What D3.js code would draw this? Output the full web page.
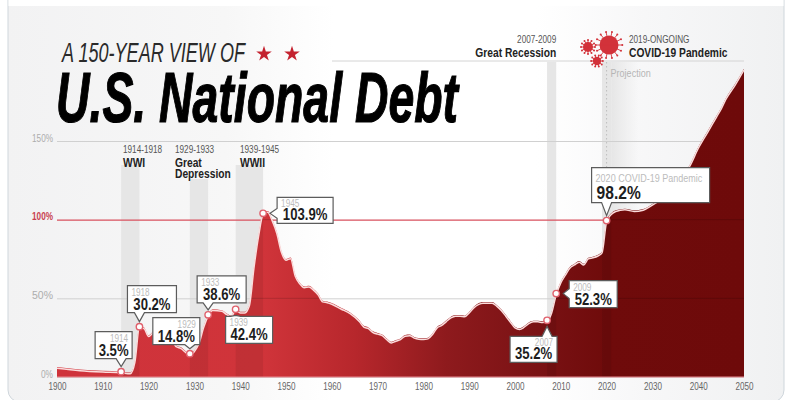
<!DOCTYPE html>
<html>
<head>
<meta charset="utf-8">
<script src="https://cdn.jsdelivr.net/npm/d3@7"></script>
<style>
    html, body { margin: 0; padding: 0; background: #fff; }
    svg { display: block; }
    text { font-family: "Liberation Sans", sans-serif; }
</style>
</head>
<body>
<svg id="chart" width="796" height="400"></svg>
<script>
const years = [1900, 1905, 1910, 1914, 1916, 1917, 1918, 1919, 1920, 1921, 1922, 1925, 1926, 1927, 1929, 1930, 1931, 1932, 1933, 1934, 1936, 1937, 1938, 1939, 1940, 1941, 1942, 1943, 1944, 1945, 1946, 1947, 1948, 1949, 1950, 1951, 1952, 1953, 1954, 1955, 1956, 1957, 1958, 1959, 1960, 1962, 1964, 1966, 1967, 1968, 1969, 1970, 1971, 1972, 1973, 1974, 1975, 1976, 1977, 1978, 1979, 1980, 1981, 1982, 1983, 1984, 1985, 1986, 1987, 1988, 1989, 1990, 1991, 1992, 1993, 1994, 1995, 1996, 1997, 1998, 1999, 2000, 2001, 2002, 2003, 2004, 2005, 2006, 2007, 2008, 2009, 2010, 2011, 2012, 2013, 2014, 2015, 2016, 2017, 2018, 2019, 2020, 2021, 2022, 2024, 2026, 2028, 2030, 2032, 2034, 2036, 2038, 2040, 2042, 2044, 2045, 2046, 2048, 2050];
const debt = [6.3, 4.8, 3.9, 3.4, 2.8, 10, 32, 31.5, 26.5, 29, 32, 26, 20, 19, 14.8, 17, 22, 32, 39.5, 43, 42.5, 40.5, 39, 43, 41.5, 41.5, 46, 70, 90, 104, 105.5, 100, 92, 80, 75, 76, 65, 60, 57.5, 58, 56, 53, 48.5, 48, 47, 44, 41, 36, 32.5, 31.5, 29, 28, 27, 24.5, 22.4, 23.5, 24.5, 26.7, 27, 25.5, 24.8, 24.6, 25, 27.8, 32, 33.5, 36, 38.3, 39.4, 39.4, 39, 41.5, 44.7, 46.8, 47.7, 47.7, 47.7, 45.8, 43, 39.4, 35.6, 32, 31, 32.4, 34.7, 35.8, 35.8, 35.4, 36, 41.5, 53, 60.6, 65.5, 70, 72, 73.7, 72, 75.8, 76.5, 77.5, 79.7, 99.4, 104, 106, 107, 106, 106.8, 110, 114, 121, 128, 134, 146, 156, 166, 171, 177, 186, 196];

const xTicks = [1900, 1910, 1920, 1930, 1940, 1950, 1960, 1970, 1980, 1990, 2000, 2010, 2020, 2030, 2040, 2050];
const yTicks = [0, 50, 100, 150];

const bandStart = [1914, 1929, 1939, 2007, 2019];
const bandEnd = [1918, 1933, 1945, 2009, 2021];

const calloutYears = [1914, 1918, 1929, 1933, 1939, 1945, 2007, 2009, 2020];
const calloutYearText = ["1914", "1918", "1929", "1933", "1939", "1945", "2007", "2009", "2020 COVID-19 Pandemic"];
const calloutValues = ["3.5%", "30.2%", "14.8%", "38.6%", "42.4%", "103.9%", "35.2%", "52.3%", "98.2%"];

const title = "U.S. National Debt";
const kicker = "A 150-YEAR VIEW OF";

// layout of the callouts, relative to the marker
const boxDx = [-26, -12, -37, -11, -10, 14, -37, 13, -15];
const boxDy = [-40, -41, -36, -39, 7, -16, 16, -13, -53];
const boxW = [37, 49, 47, 49, 47, 56, 47, 48, 118];
const boxH = [27, 27, 27, 27, 27, 26, 26, 27, 35];
const tailSide = ["bottom", "bottom", "bottom", "bottom", "top", "left", "top", "left", "bottom"];
const yearAlign = ["end", "start", "end", "start", "start", "start", "end", "start", "start"];

const margin = { top: 141, right: 52, bottom: 23, left: 57 };
const width = 796 - margin.left - margin.right;
const height = 400 - margin.top - margin.bottom;
const narrow = 0.82; // no condensed face installed, so squeeze the regular one

const svg = d3.select("#chart");
const defs = svg.append("defs");

const x = d3.scaleLinear().domain([1900, 2050]).range([margin.left, margin.left + width]);
const y = d3.scaleLinear().domain([0, 150]).range([margin.top + height, margin.top]);

function label(parent, px, py, str, size, fill, anchor, bold) {
    return parent.append("text")
        .attr("transform", `translate(${px}, ${py}) scale(${narrow}, 1)`)
        .attr("text-anchor", anchor || "start")
        .attr("fill", fill)
        .style("font-size", size + "px")
        .style("font-weight", bold ? "bold" : "normal")
        .text(str);
}

const panelGrad = defs.append("linearGradient").attr("id", "panelGrad");
panelGrad.selectAll("stop")
    .data([[0, "#f2f2f3"], [0.28, "#f7f7f7"], [0.42, "#ffffff"], [0.68, "#ffffff"], [0.82, "#f7f7f8"], [1, "#f0f1f2"]])
    .enter().append("stop")
    .attr("offset", d => d[0])
    .attr("stop-color", d => d[1]);

const areaGrad = defs.append("linearGradient")
    .attr("id", "areaGrad")
    .attr("gradientUnits", "userSpaceOnUse")
    .attr("x1", x(1900)).attr("x2", x(2050)).attr("y1", 0).attr("y2", 0);
areaGrad.selectAll("stop")
    .data([[1900, "#cf333b"], [1945, "#d0343a"], [1965, "#b7272c"], [1985, "#8e1a1d"], [2005, "#7a1214"], [2020, "#6f0b0b"], [2050, "#6e0a0a"]])
    .enter().append("stop")
    .attr("offset", d => (d[0] - 1900) / 150)
    .attr("stop-color", d => d[1]);

// panel
svg.append("rect")
    .attr("x", 8).attr("y", -20).attr("width", 776).attr("height", 422).attr("rx", 12)
    .attr("fill", "url(#panelGrad)")
    .attr("stroke", "#cfd6dc");
svg.append("rect").attr("x", 8.5).attr("y", 0).attr("width", 775).attr("height", 6).attr("fill", "#fff");

// period bands
const bandTop = [165, 179, 165, 62, 62];
svg.selectAll("rect.band")
    .data(bandStart)
    .enter().append("rect")
    .attr("class", "band")
    .attr("x", d => x(d))
    .attr("y", (d, i) => bandTop[i])
    .attr("width", (d, i) => x(bandEnd[i]) - x(d))
    .attr("height", (d, i) => y(0) - bandTop[i])
    .attr("fill", "#e6e6e6");
// the covid band fades out to the right of the dotted line
const fadeGrad = defs.append("linearGradient").attr("id", "fadeGrad");
fadeGrad.append("stop").attr("offset", 0).attr("stop-color", "#e6e6e6");
fadeGrad.append("stop").attr("offset", 1).attr("stop-color", "#e6e6e6").attr("stop-opacity", 0);
svg.append("rect")
    .attr("x", x(2021)).attr("y", 62)
    .attr("width", x(2027) - x(2021)).attr("height", y(0) - 62)
    .attr("fill", "url(#fadeGrad)");

// grid
svg.append("line").attr("x1", 332).attr("x2", x(2050)).attr("y1", 61).attr("y2", 61).attr("stroke", "#d4d4d4");

const yAxis = svg.append("g")
    .attr("transform", `translate(${margin.left}, 0)`)
    .call(d3.axisLeft(y).tickValues(yTicks).tickSize(-width).tickPadding(4).tickFormat(d => d + "%"));
yAxis.select(".domain").remove();
yAxis.selectAll(".tick line").attr("stroke", d => d === 100 ? "#d8505e" : "#d0d0d0").attr("stroke-width", d => d === 100 ? 1.4 : 1);
yAxis.selectAll(".tick text")
    .attr("fill", d => d === 100 ? "#c8404e" : "#adadad")
    .attr("textLength", d => d === 0 ? 12 : 21)
    .attr("lengthAdjust", "spacingAndGlyphs")
    .style("font-size", "11px")
    .style("font-weight", d => d === 100 ? "bold" : "normal")
    .attr("dy", "0em");

// area
const area = d3.area().x((d, i) => x(years[i])).y0(y(0)).y1(d => y(d)).curve(d3.curveMonotoneX);
const line = d3.line().x((d, i) => x(years[i])).y(d => y(d)).curve(d3.curveMonotoneX);

svg.append("path").datum(debt).attr("d", area).attr("fill", "url(#areaGrad)");

defs.append("clipPath").attr("id", "areaClip").append("path").datum(debt).attr("d", area);
const inside = svg.append("g").attr("clip-path", "url(#areaClip)");
inside.selectAll("rect")
    .data(bandStart)
    .enter().append("rect")
    .attr("x", d => x(d))
    .attr("y", y(200))
    .attr("width", (d, i) => x(bandEnd[i]) - x(d))
    .attr("height", y(0) - y(200))
    .attr("fill", "#000").attr("opacity", 0.07);
inside.selectAll("line")
    .data([50, 100])
    .enter().append("line")
    .attr("x1", x(1900)).attr("x2", x(2050))
    .attr("y1", d => y(d)).attr("y2", d => y(d))
    .attr("stroke", "#000").attr("opacity", 0.14);

svg.append("path").datum(debt)
    .attr("d", line)
    .attr("transform", "translate(0, 1.2)")
    .attr("fill", "none")
    .attr("stroke", "#fbdcdc")
    .attr("stroke-width", 1.5);
svg.append("line")
    .attr("x1", x(1900)).attr("x2", x(2050)).attr("y1", y(0)).attr("y2", y(0))
    .attr("stroke", "#ea8d94").attr("stroke-width", 1);

// x axis
const xAxis = svg.append("g")
    .attr("transform", `translate(0, ${y(0)})`)
    .call(d3.axisBottom(x).tickValues(xTicks).tickSize(0).tickPadding(5).tickFormat(d3.format("d")));
xAxis.select(".domain").remove();
xAxis.selectAll(".tick text")
    .attr("fill", "#666")
    .attr("textLength", 18)
    .attr("lengthAdjust", "spacingAndGlyphs")
    .style("font-size", "11px");

// projection
svg.append("line")
    .attr("x1", x(2020)).attr("x2", x(2020)).attr("y1", 62).attr("y2", 170)
    .attr("stroke", "#bdbdbd").attr("stroke-dasharray", "1.5 2.5");
label(svg, x(2020) + 4, 77, "Projection", 11, "#b5b5b5");

// period labels
function periodLabel(px, py, range, names, anchor) {
    label(svg, px, py, range, 10, "#555", anchor);
    names.forEach((n, i) => {
        label(svg, px, py + 13.5 + i * 11.5, n, 12.5, "#222", anchor, true);
    });
}
periodLabel(123, 153, "1914-1918", ["WWI"], "start");
periodLabel(175, 153, "1929-1933", ["Great", "Depression"], "start");
periodLabel(240, 153, "1939-1945", ["WWII"], "start");
periodLabel(x(2009), 43, "2007-2009", ["Great Recession"], "end");
periodLabel(629, 43, "2019-ONGOING", ["COVID-19 Pandemic"], "start");

// virus icons
function virus(cx, cy, r, spikes) {
    const g = svg.append("g").attr("transform", `translate(${cx}, ${cy})`).attr("fill", "#d2323a").attr("stroke", "#d2323a");
    g.append("circle").attr("r", r).attr("stroke", "none");
    g.selectAll("line").data(d3.range(spikes)).enter().append("line")
        .attr("x2", d => Math.cos(d / spikes * 2 * Math.PI) * r * 1.4)
        .attr("y2", d => Math.sin(d / spikes * 2 * Math.PI) * r * 1.4)
        .attr("stroke-width", 0.9);
    g.selectAll("circle.tip").data(d3.range(spikes)).enter().append("circle")
        .attr("class", "tip")
        .attr("cx", d => Math.cos(d / spikes * 2 * Math.PI) * r * 1.4)
        .attr("cy", d => Math.sin(d / spikes * 2 * Math.PI) * r * 1.4)
        .attr("r", 1).attr("stroke", "none");
}
virus(609, 45, 9.5, 14);
virus(588, 47, 5, 12);
virus(597, 61, 4.2, 10);

// title
svg.append("text").attr("x", 62).attr("y", 62)
    .attr("textLength", 183).attr("lengthAdjust", "spacingAndGlyphs")
    .attr("fill", "#2a2a2a")
    .style("font-size", "28px").style("font-style", "italic")
    .text(kicker);
svg.selectAll("path.star")
    .data([264, 292])
    .enter().append("path")
    .attr("class", "star")
    .attr("transform", d => `translate(${d}, 54)`)
    .attr("d", d3.symbol().type(d3.symbolStar).size(75))
    .attr("fill", "#c4222f");
svg.append("text").attr("x", 56).attr("y", 122)
    .attr("textLength", 402).attr("lengthAdjust", "spacingAndGlyphs")
    .attr("fill", "#000").attr("stroke", "#000").attr("stroke-width", 1.2)
    .style("font-size", "70px").style("font-weight", "bold").style("font-style", "italic")
    .text(title);

// callouts
function calloutPath(bx, by, w, h, side, tx, ty) {
    const p = d3.path();
    const t = 5;
    p.moveTo(bx, by);
    if (side === "top") { p.lineTo(tx - t, by); p.lineTo(tx, ty); p.lineTo(tx + t, by); }
    p.lineTo(bx + w, by);
    p.lineTo(bx + w, by + h);
    if (side === "bottom") { p.lineTo(tx + t, by + h); p.lineTo(tx, ty); p.lineTo(tx - t, by + h); }
    p.lineTo(bx, by + h);
    if (side === "left") { p.lineTo(bx, ty + t); p.lineTo(tx, ty); p.lineTo(bx, ty - t); }
    p.closePath();
    return p.toString();
}

calloutYears.forEach((yr, i) => {
    const mx = x(yr);
    const my = y(debt[years.indexOf(yr)]);
    const bx = mx + boxDx[i];
    const by = my + boxDy[i];
    const side = tailSide[i];
    let tx = mx, ty = my;
    if (side === "bottom") ty = my - 5;
    if (side === "top") ty = my + 6;
    if (side === "left") tx = mx + 7;

    svg.append("circle").attr("cx", mx).attr("cy", my).attr("r", 3.2)
        .attr("fill", "#fff").attr("stroke", "#e0606c").attr("stroke-width", 1.4);

    const g = svg.append("g");
    g.append("path").attr("d", calloutPath(bx, by, boxW[i], boxH[i], side, tx, ty))
        .attr("fill", "#fff").attr("stroke", "#5c5c5c").attr("stroke-width", 1.2);
    const big = i === 8;
    label(g, yearAlign[i] === "end" ? bx + boxW[i] - 4 : bx + 4, by + (big ? 14 : 10), calloutYearText[i],
        big ? 11 : 10, "#bcbcbc", yearAlign[i]);
    label(g, big ? bx + 5 : bx + boxW[i] / 2, by + boxH[i] - (big ? 4 : 3), calloutValues[i],
        big ? 19 : 16, "#1d1d1d", big ? "start" : "middle", true);
});
</script>
</body>
</html>
